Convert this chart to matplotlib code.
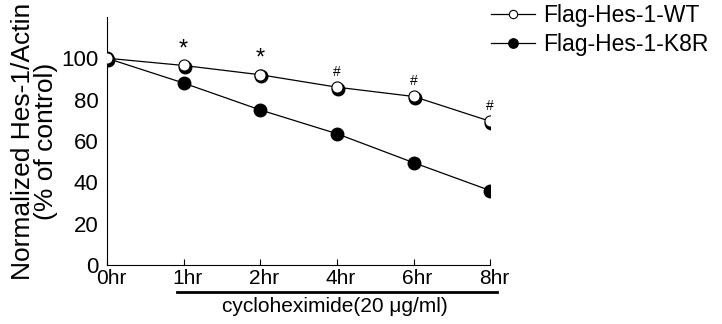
import matplotlib
matplotlib.use("Agg")
import matplotlib.pyplot as plt
from matplotlib.transforms import ScaledTranslation

plt.rcParams['font.family'] = ['Liberation Sans', 'DejaVu Sans']

times = ["0hr", "1hr", "2hr", "4hr", "6hr", "8hr"]
wt = [100, 96.5, 92, 86, 81.5, 69.5]
k8r = [100, 88, 75, 63.5, 49.5, 36]
marks = ["", "*", "*", "#", "#", "#"]

fig = plt.figure(figsize=(7.22, 3.24), dpi=100)
ax = fig.add_axes([0.148, 0.182, 0.531, 0.766])
x = list(range(len(times)))

ax.plot(x, k8r, color="black", lw=0.9, marker="o", ms=9, mfc="black", mec="black",
        label="Flag-Hes-1-K8R", zorder=3)
# WT markers: white with dark shadow
ax.plot([v + 0.015 for v in x], [v - 0.8 for v in wt], ls="none", marker="o", ms=9,
        mfc="black", mec="black", zorder=3)
ax.plot(x, wt, color="black", lw=0.9, marker="o", ms=8, mfc="white", mec="black",
        mew=0.8, label="Flag-Hes-1-WT", zorder=4)

for xi, yi, m in zip(x, wt, marks):
    if m == "*":
        ax.text(xi, yi + 2.5, m, ha="center", va="bottom", fontsize=17)
    elif m:
        ax.text(xi, yi + 4, m, ha="center", va="bottom", fontsize=10)

ax.set_xlim(0, 5)
ax.set_ylim(0, 120)
ax.set_yticks([0, 20, 40, 60, 80, 100])
ax.set_xticks(x)
ax.set_xticklabels(times)
ax.tick_params(axis="x", direction="in", length=4, labelsize=15, pad=3)
ax.tick_params(axis="y", length=0, labelsize=16, pad=6)
for lab in ax.get_xticklabels():
    lab.set_transform(lab.get_transform() + ScaledTranslation(4 / 100, 0, fig.dpi_scale_trans))
for s in ["top", "right"]:
    ax.spines[s].set_visible(False)
ax.set_ylabel("Normalized Hes-1/Actin\n(% of control)", fontsize=19, linespacing=0.95, labelpad=2)

h, l = ax.get_legend_handles_labels()
fig.legend(h[::-1], l[::-1], loc="upper left", bbox_to_anchor=(0.652, 1.05), frameon=False,
           fontsize=16.5, handlelength=1.9, markerscale=0.75, labelspacing=0.25, handletextpad=0.35)

# treatment bar under the axis
fig.add_artist(plt.Line2D([177 / 722, 497 / 722], [1 - 292 / 324] * 2, color="black", lw=2))
fig.text(335 / 722, 1 - 307 / 324, "cycloheximide(20 \u03bcg/ml)", ha="center", va="center", fontsize=15)

fig.savefig("out.png", dpi=100)
